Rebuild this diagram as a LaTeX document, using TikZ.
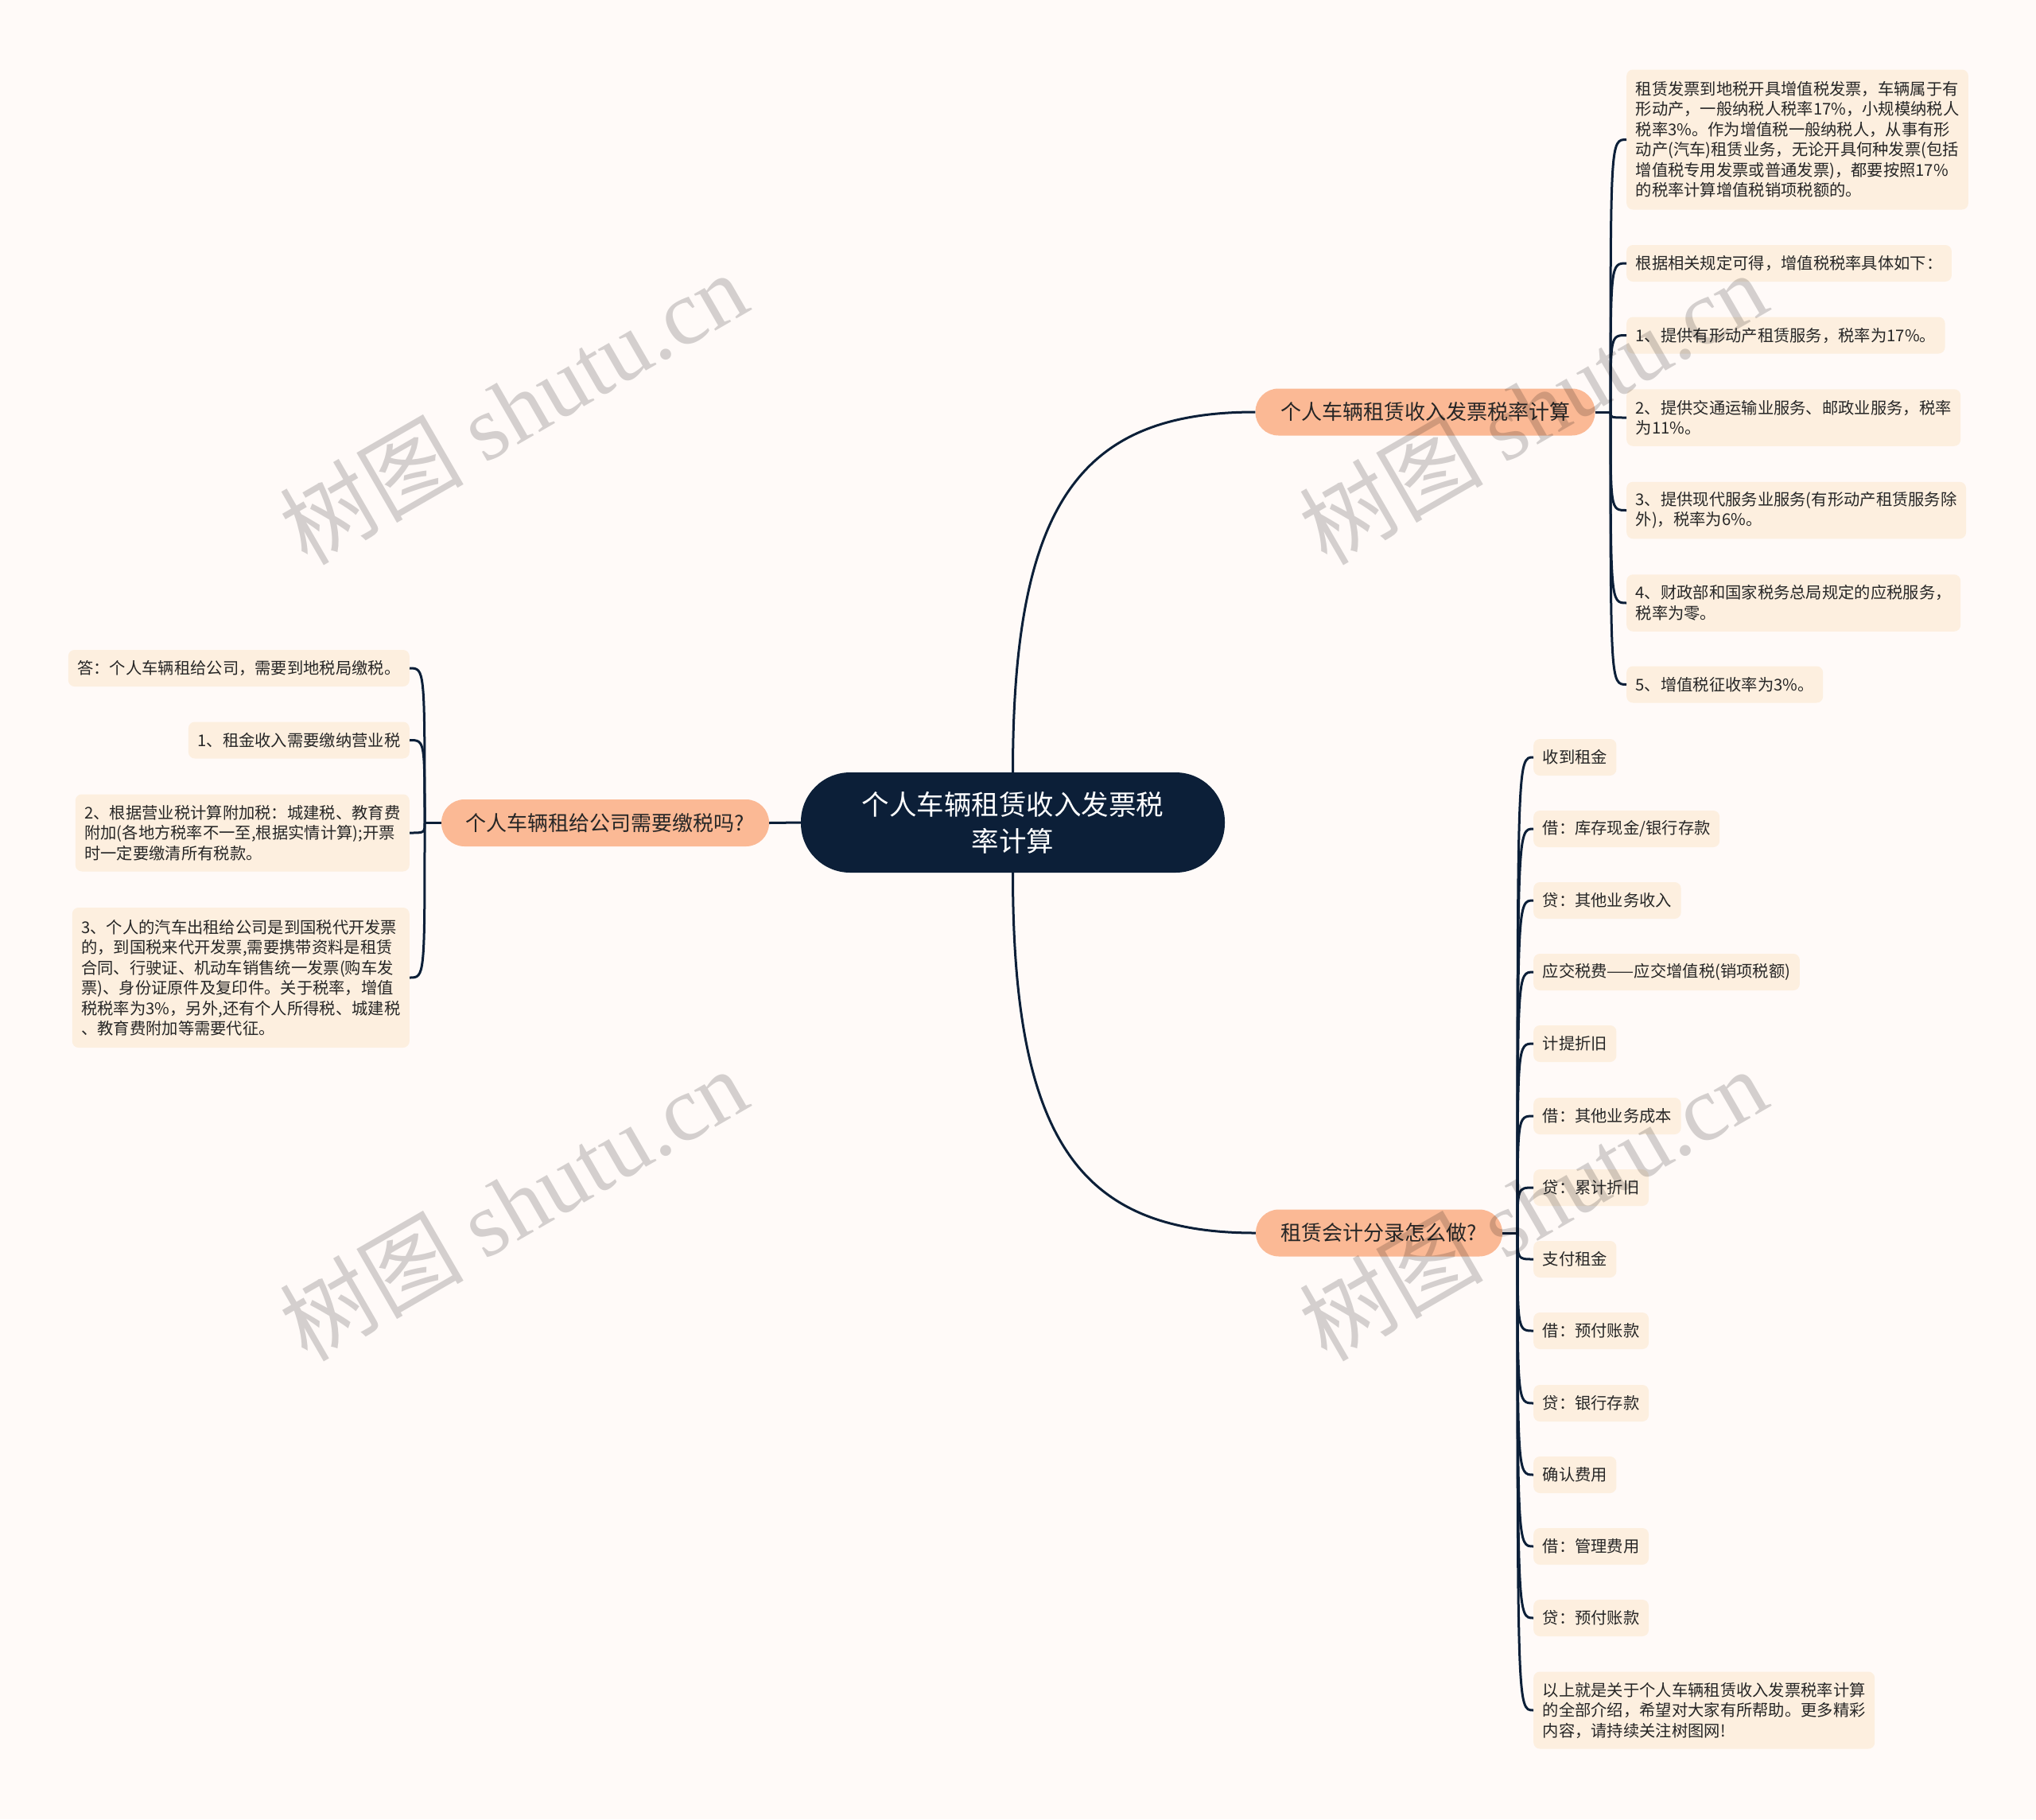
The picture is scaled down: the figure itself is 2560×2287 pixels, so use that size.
\documentclass[tikz,border=0pt]{standalone}
\usepackage{fontspec}
\setmainfont{Noto Sans CJK SC}
\newfontfamily\wmlatin{Liberation Serif}
\definecolor{bg}{HTML}{FFFAF8}
\definecolor{navy}{HTML}{0C1F38}
\definecolor{salmon}{HTML}{FBB995}
\definecolor{peach}{HTML}{FDEFDF}
\definecolor{ink}{HTML}{262626}
\tikzset{
  leaf/.style={fill=peach, rounded corners=8, inner xsep=11.5, inner ysep=0, align=left,
    font=\fontsize{20.3}{25.5}\selectfont, text=ink},
  lone/.style={leaf, minimum height=46},
  ltwo/.style={leaf, minimum height=71.5},
  lthree/.style={leaf, minimum height=97},
  lsix/.style={leaf, minimum height=176},
  branch/.style={fill=salmon, rounded corners=29, inner sep=0, minimum height=59,
    font=\fontsize{26}{30}\selectfont, text=ink},
  rootbox/.style={fill=navy, rounded corners=62, inner sep=0, minimum width=533, minimum height=126,
    align=center, font=\fontsize{34.5}{46}\selectfont, text=white},
  conn/.style={draw=navy, line width=3},
  wm/.style={text=black, text opacity=0.17, font=\fontsize{116}{120}\selectfont, rotate=30, inner sep=0}
}
\begin{document}
\begin{tikzpicture}[x=1pt,y=-1pt]
\useasboundingbox[fill=bg] (0,0) rectangle (2560,2287);

% root and branches
\node[rootbox] (root) at (1273.5,1034) {个人车辆租赁收入发票税\\率计算};
\node[branch, minimum width=427] (b1) at (1792,518) {个人车辆租赁收入发票税率计算};
\node[branch, minimum width=310] (b2) at (1734,1550) {租赁会计分录怎么做?};
\node[branch, minimum width=412] (b3) at (761,1034.5) {个人车辆租给公司需要缴税吗?};

\coordinate (s1) at (2025,518);
\coordinate (s2) at (1908,1550);
\coordinate (s3) at (534,1034.5);

% branch 1 children
\node[lsix, anchor=west] (b1a) at (2045,175.5) {租赁发票到地税开具增值税发票，车辆属于有\\形动产，一般纳税人税率17\%，小规模纳税人\\税率3\%。作为增值税一般纳税人，从事有形\\动产(汽车)租赁业务，无论开具何种发票(包括\\增值税专用发票或普通发票)，都要按照17\%\\的税率计算增值税销项税额的。};
\node[lone, anchor=west] (b1b) at (2045,331) {根据相关规定可得，增值税税率具体如下：};
\node[lone, anchor=west] (b1c) at (2045,421.5) {1、提供有形动产租赁服务，税率为17\%。};
\node[ltwo, anchor=west] (b1d) at (2045,525) {2、提供交通运输业服务、邮政业服务，税率\\为11\%。};
\node[ltwo, anchor=west] (b1e) at (2045,641.5) {3、提供现代服务业服务(有形动产租赁服务除\\外)，税率为6\%。};
\node[ltwo, anchor=west] (b1f) at (2045,758) {4、财政部和国家税务总局规定的应税服务，\\税率为零。};
\node[lone, anchor=west] (b1g) at (2045,860.5) {5、增值税征收率为3\%。};

% branch 2 children
\node[lone, anchor=west] (b2a) at (1928,952) {收到租金};
\node[lone, anchor=west] (b2b) at (1928,1042) {借：库存现金/银行存款};
\node[lone, anchor=west] (b2c) at (1928,1132) {贷：其他业务收入};
\node[lone, anchor=west] (b2d) at (1928,1222) {应交税费——应交增值税(销项税额)};
\node[lone, anchor=west] (b2e) at (1928,1312) {计提折旧};
\node[lone, anchor=west] (b2f) at (1928,1403) {借：其他业务成本};
\node[lone, anchor=west] (b2g) at (1928,1493) {贷：累计折旧};
\node[lone, anchor=west] (b2h) at (1928,1583) {支付租金};
\node[lone, anchor=west] (b2i) at (1928,1673) {借：预付账款};
\node[lone, anchor=west] (b2j) at (1928,1764) {贷：银行存款};
\node[lone, anchor=west] (b2k) at (1928,1854) {确认费用};
\node[lone, anchor=west] (b2l) at (1928,1944) {借：管理费用};
\node[lone, anchor=west] (b2m) at (1928,2034) {贷：预付账款};
\node[lthree, anchor=west] (b2n) at (1928,2150) {以上就是关于个人车辆租赁收入发票税率计算\\的全部介绍，希望对大家有所帮助。更多精彩\\内容，请持续关注树图网!};

% branch 3 children
\node[lone, anchor=east] (b3a) at (515,840) {答：个人车辆租给公司，需要到地税局缴税。};
\node[lone, anchor=east] (b3b) at (515,930.5) {1、租金收入需要缴纳营业税};
\node[lthree, anchor=east] (b3c) at (515,1047) {2、根据营业税计算附加税：城建税、教育费\\附加(各地方税率不一至,根据实情计算);开票\\时一定要缴清所有税款。};
\node[lsix, anchor=east] (b3d) at (515,1229) {3、个人的汽车出租给公司是到国税代开发票\\的，到国税来代开发票,需要携带资料是租赁\\合同、行驶证、机动车销售统一发票(购车发\\票)、身份证原件及复印件。关于税率，增值\\税税率为3\%，另外,还有个人所得税、城建税\\、教育费附加等需要代征。};

% root connectors
\draw[conn] (root.north) .. controls (1273.5,630) and (1360,518) .. (b1.west);
\draw[conn] (root.south) .. controls (1273.5,1438) and (1360,1550) .. (b2.west);
\draw[conn] (root.west) -- (b3.east);

% branch connectors
\draw[conn] (b1.east) -- (s1);
\foreach \n in {b1a,b1b,b1c,b1d,b1e,b1f,b1g}
  \draw[conn] (s1) .. controls (s1 |- \n.west) .. (\n.west);
\draw[conn] (b2.east) -- (s2);
\foreach \n in {b2a,b2b,b2c,b2d,b2e,b2f,b2g,b2h,b2i,b2j,b2k,b2l,b2m,b2n}
  \draw[conn] (s2) .. controls (s2 |- \n.west) .. (\n.west);
\draw[conn] (b3.west) -- (s3);
\foreach \n in {b3a,b3b,b3c,b3d}
  \draw[conn] (s3) .. controls (s3 |- \n.east) .. (\n.east);

% watermarks
\node[wm] (wm1) at (645,512) {树图 {\wmlatin shutu.cn}};
\node[wm] (wm2) at (645,1513) {树图 {\wmlatin shutu.cn}};
\node[wm] (wm3) at (1927,512) {树图 {\wmlatin shutu.cn}};
\node[wm] (wm4) at (1927,1513) {树图 {\wmlatin shutu.cn}};
\end{tikzpicture}
\end{document}
